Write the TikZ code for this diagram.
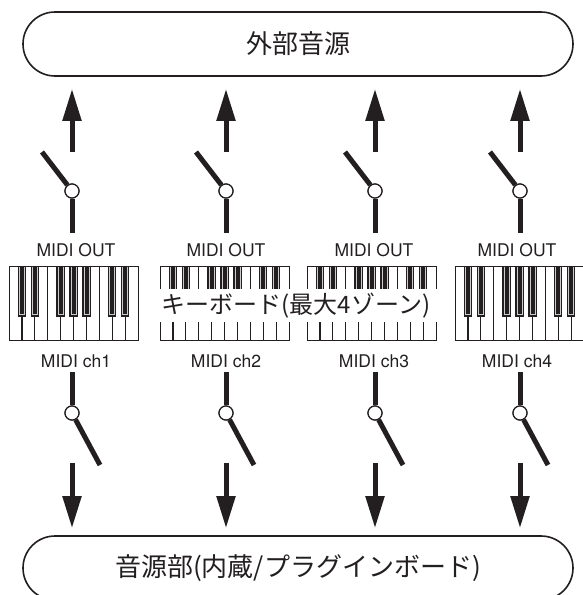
\documentclass[tikz,border=0pt]{standalone}
\usepackage{fontspec}
\setmainfont{TeX Gyre Heros}
\newfontfamily\jpfont{Noto Sans CJK JP}
\usetikzlibrary{arrows.meta}
\definecolor{ink}{RGB}{35,31,32}
\newcommand\keyboard[2]{% #1 name, #2 left x
  \node[kbframe,anchor=north west] (#1) at (#2,266) {};
  \begin{scope}[shift={(#1.north west)}]
    \foreach \k in {1,...,9} \draw[keyline] (\k*12.9,0) -- (\k*12.9,74);
    \foreach \k in {1,2,4,5,6,8,9} {
      \fill[ink] (\k*12.9-4.2,0) rectangle (\k*12.9+4.2,51);
      \draw[gray!40,line width=0.6pt] (\k*12.9-2.5,0) -- (\k*12.9-2.5,48.6) -- (\k*12.9+2.5,48.6) -- (\k*12.9+2.5,0);
    }
  \end{scope}
  \node[kbframe,anchor=north west,fill=none] at (#2,266) {};
}
\begin{document}
\begin{tikzpicture}[x=1pt,y=-1pt,
  every path/.style={color=ink},
  srcbox/.style={draw=ink, line width=1.6pt, rounded corners=32pt, minimum width=550pt, minimum height=64pt, inner sep=0pt, font=\jpfont\fontsize{26}{26}\selectfont, text=ink},
  kbframe/.style={draw=ink, line width=1.2pt, minimum width=129pt, minimum height=74pt, inner sep=0pt, fill=white},
  keyline/.style={draw=ink, line width=1.2pt},
  wire/.style={draw=ink, line width=5pt},
  arr/.style={draw=ink, line width=5pt, -{Triangle[length=32pt,width=18pt]}},
  pivot/.style={circle, draw=ink, line width=1.2pt, fill=white, minimum size=14pt, inner sep=0pt},
  lbl/.style={font=\fontsize{17.5}{18}\selectfont, text=ink, inner sep=0pt},
]
\useasboundingbox (0,0) rectangle (583,595);
\fill[white] (0,0) rectangle (583,595);

\node[srcbox] (ext) at (298,44) {外部音源};
\node[srcbox] (int) at (298,568) {音源部(内蔵/プラグインボード)};

\keyboard{kb1}{9}
\keyboard{kb2}{160}
\keyboard{kb3}{307}
\keyboard{kb4}{455}

\node[fill=white, inner sep=0pt, minimum height=33pt, minimum width=286pt, font=\jpfont\fontsize{24}{24}\selectfont, text=ink] (kbtext) at (296,305.5) {キーボード(最大4ゾーン)};

\foreach \i/\X/\L in {1/72/76, 2/226/226, 3/375/374, 4/520/517} {
  % upper switch (MIDI OUT)
  \coordinate (a\i) at (\X,152);
  \coordinate (b\i) at (\X-30,152);
  \node[pivot] (p\i) at (\X,191) {};
  \coordinate (o\i) at (\X,233);
  \draw[wire] (b\i) -- (p\i);
  \draw[wire] (p\i) -- (o\i);
  \node[pivot] at (p\i) {};
  \draw[arr, shorten >=12pt] (a\i) -- (ext.south -| a\i);
  \node[lbl] (mo\i) at (\L,250) {MIDI OUT};
  % lower switch (MIDI ch)
  \node[lbl] (mc\i) at (\L,361) {MIDI ch\i};
  \coordinate (c\i) at (\X,372);
  \node[pivot] (q\i) at (\X,413) {};
  \coordinate (d\i) at (\X+28,465);
  \draw[wire] (c\i) -- (q\i);
  \draw[wire] (q\i) -- (d\i);
  \node[pivot] at (q\i) {};
  \coordinate (e\i) at (\X,463);
  \draw[arr, shorten >=7pt] (e\i) -- (int.north -| e\i);
}
\end{tikzpicture}
\end{document}
